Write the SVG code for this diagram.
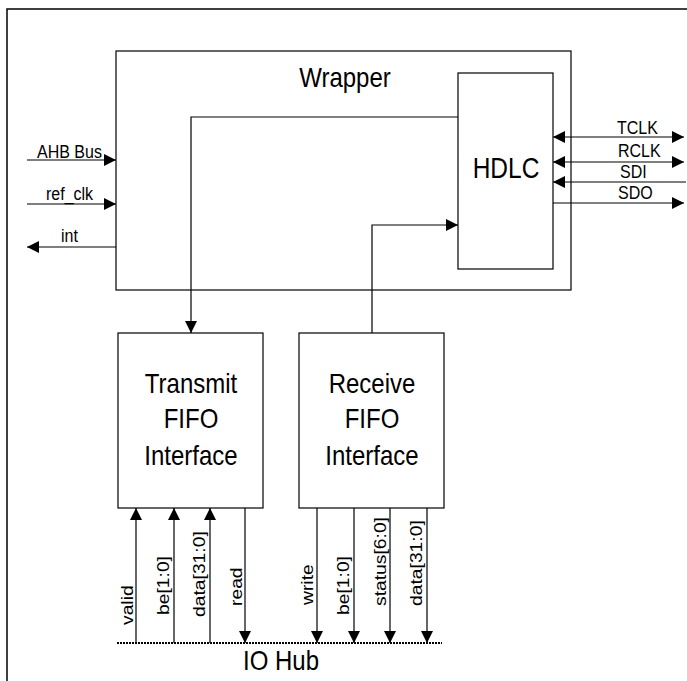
<svg xmlns="http://www.w3.org/2000/svg" width="687" height="681" viewBox="0 0 687 681">
<defs>
<marker id="arr" markerUnits="userSpaceOnUse" markerWidth="12" markerHeight="12" refX="12" refY="6" orient="auto-start-reverse">
<path d="M0,0 L12,6 L0,12 z" fill="#000"/>
</marker>
<style>
.box{fill:#fff;stroke:#000;stroke-width:1.2}
.ln{fill:none;stroke:#000;stroke-width:1.2}
.t{font-family:"Liberation Sans",Arial,sans-serif;fill:#000}
.s{font-size:16px}
.v{font-size:16.5px}
.b{font-size:24px;text-anchor:middle}
</style>
</defs>
<rect width="687" height="681" fill="#fff"/>
<rect x="7" y="9" width="700" height="700" fill="none" stroke="#000" stroke-width="1.5"/>

<g id="wrapper">
<rect class="box" x="116" y="51" width="455" height="239"/>
<text class="t b" transform="translate(345,87) scale(1,1.17)">Wrapper</text>
</g>
<g id="hdlc">
<rect class="box" x="458" y="73" width="95" height="196"/>
<text class="t" transform="translate(506,178) scale(1,1.17)" font-size="24.5" text-anchor="middle">HDLC</text>
</g>
<g id="tx">
<rect class="box" x="118" y="333" width="145" height="175"/>
<text class="t b" transform="translate(191,393) scale(1,1.17)">Transmit</text>
<text class="t b" transform="translate(191,428) scale(1,1.17)">FIFO</text>
<text class="t b" transform="translate(191,465) scale(1,1.17)">Interface</text>
</g>
<g id="rx">
<rect class="box" x="299" y="333" width="145" height="175"/>
<text class="t b" transform="translate(372,393) scale(1,1.17)">Receive</text>
<text class="t b" transform="translate(372,428) scale(1,1.17)">FIFO</text>
<text class="t b" transform="translate(372,465) scale(1,1.17)">Interface</text>
</g>
<g id="iohub">
<line x1="117" y1="643" x2="442" y2="643" stroke="#000" stroke-width="2.2" stroke-dasharray="2 1"/>
<text class="t b" transform="translate(281,670) scale(1,1.17)">IO Hub</text>
</g>

<g id="connectors">
<polyline class="ln" points="458,117 191,117 191,333" marker-end="url(#arr)"/>
<polyline class="ln" points="372,333 372,225 458,225" marker-end="url(#arr)"/>
<line class="ln" x1="27" y1="160" x2="116" y2="160" marker-end="url(#arr)"/>
<line class="ln" x1="27" y1="204" x2="116" y2="204" marker-end="url(#arr)"/>
<line class="ln" x1="116" y1="247" x2="27" y2="247" marker-end="url(#arr)"/>
<line class="ln" x1="553" y1="137" x2="684" y2="137" marker-start="url(#arr)" marker-end="url(#arr)"/>
<line class="ln" x1="553" y1="162" x2="684" y2="162" marker-start="url(#arr)" marker-end="url(#arr)"/>
<line class="ln" x1="686" y1="182" x2="553" y2="182" marker-end="url(#arr)"/>
<line class="ln" x1="553" y1="203" x2="684" y2="203" marker-end="url(#arr)"/>
<line class="ln" x1="136" y1="643" x2="136" y2="508" marker-end="url(#arr)"/>
<line class="ln" x1="174" y1="643" x2="174" y2="508" marker-end="url(#arr)"/>
<line class="ln" x1="210" y1="643" x2="210" y2="508" marker-end="url(#arr)"/>
<line class="ln" x1="245" y1="508" x2="245" y2="643" marker-end="url(#arr)"/>
<line class="ln" x1="317" y1="508" x2="317" y2="643" marker-end="url(#arr)"/>
<line class="ln" x1="354" y1="508" x2="354" y2="643" marker-end="url(#arr)"/>
<line class="ln" x1="390" y1="508" x2="390" y2="643" marker-end="url(#arr)"/>
<line class="ln" x1="427" y1="508" x2="427" y2="643" marker-end="url(#arr)"/>
</g>

<g id="labels">
<text class="t s" transform="translate(37,158) scale(1,1.17)">AHB Bus</text>
<text class="t s" transform="translate(46,200) scale(1,1.17)">ref_clk</text>
<text class="t s" transform="translate(61,242) scale(1,1.17)">int</text>
<text class="t s" transform="translate(617,134) scale(1,1.17)">TCLK</text>
<text class="t s" transform="translate(618,157) scale(1,1.17)">RCLK</text>
<text class="t s" transform="translate(620,178) scale(1,1.17)">SDI</text>
<text class="t s" transform="translate(618,199) scale(1,1.17)">SDO</text>
<text class="t v" transform="translate(133,625) scale(1,1.17) rotate(-90)">valid</text>
<text class="t v" transform="translate(169,615) scale(1,1.17) rotate(-90)">be[1:0]</text>
<text class="t v" transform="translate(205,617) scale(1,1.17) rotate(-90)">data[31:0]</text>
<text class="t v" transform="translate(242,606) scale(1,1.17) rotate(-90)">read</text>
<text class="t v" transform="translate(313,605) scale(1,1.17) rotate(-90)">write</text>
<text class="t v" transform="translate(349,615) scale(1,1.17) rotate(-90)">be[1:0]</text>
<text class="t v" transform="translate(386,606) scale(1,1.17) rotate(-90)">status[6:0]</text>
<text class="t v" transform="translate(422,606) scale(1,1.17) rotate(-90)">data[31:0]</text>
</g>
</svg>
